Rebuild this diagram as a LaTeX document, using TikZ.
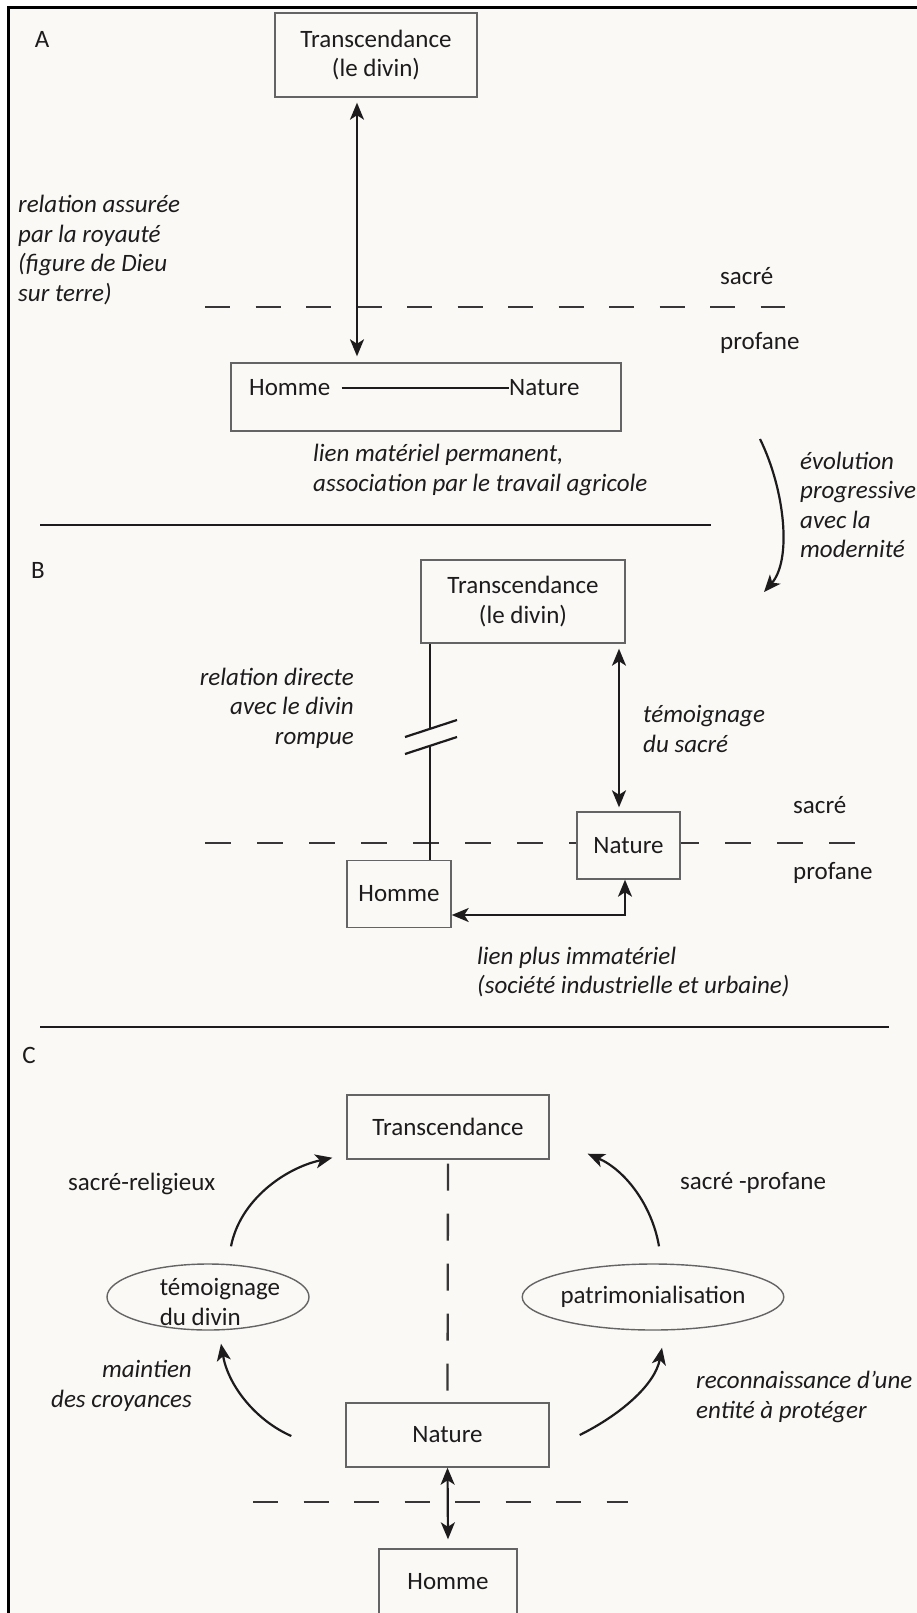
\documentclass[tikz,border=0pt]{standalone}
\usepackage{fontspec}
\setmainfont{Carlito}
\usetikzlibrary{arrows.meta,shapes.geometric,calc}
\definecolor{ink}{HTML}{1E1B1C}
\definecolor{boxc}{HTML}{646464}
\definecolor{bg}{HTML}{FAF9F6}
\begin{document}
\begin{tikzpicture}[x=1pt,y=-1pt,
  txt/.style={inner sep=0pt, font=\fontsize{25}{29.5}\selectfont, text=ink},
  itx/.style={inner sep=0pt, font=\fontsize{25}{29.5}\selectfont\itshape, text=ink},
  box/.style={draw=boxc, line width=1.4pt, fill=bg, inner sep=0pt, align=center,
              font=\fontsize{25}{29.5}\selectfont, text=ink},
  ell/.style={ellipse, draw=boxc, line width=1.4pt, inner sep=0pt,
              font=\fontsize{25}{29.5}\selectfont, text=ink},
  conn/.style={line width=2.2pt, draw=ink},
  tipa/.tip={Stealth[length=17pt,width=14pt,inset=4.5pt]},
  dbl/.style={conn, tipa-tipa},
  arr/.style={conn, -tipa},
  dsh/.style={line width=2.5pt, draw=ink!88, dash pattern=on 25pt off 25.5pt},
  dshb/.style={line width=2.5pt, draw=ink!88, dash pattern=on 26pt off 26pt},
  vdsh/.style={line width=2.3pt, draw=ink!88, dash pattern=on 27pt off 23pt, dash phase=46pt},
  sep/.style={line width=2.4pt, draw=ink}]
\useasboundingbox (0,0) rectangle (917,1613);
\fill[white] (0,0) rectangle (917,1613);
\fill[bg] (8,8) rectangle (917,1613);
\draw[line width=3pt] (8,1613) -- (8,8) -- (917,8);

% ---------------- A ----------------
\node[txt] (labA) at (42,39) {A};
\node[box, minimum width=202pt, minimum height=84pt] (TA) at (376,55) {Transcendance\\(le divin)};
\draw[dsh] (205,307) -- (785,307);
\node[box, minimum width=390pt, minimum height=68pt] (HN) at (426,397) {};
\node[txt, anchor=west] (hA) at (249,388) {Homme};
\node[txt, anchor=west] (nA) at (509,388) {Nature};
\draw[conn, shorten <=11pt] (hA.east) -- (nA.west);
\draw[dbl] ([xshift=-19pt,yshift=-5pt]TA.south) -- ([xshift=-69pt,yshift=6pt]HN.north);
\node[itx, anchor=west, align=left] (relA) at (18,250) {relation assurée\\par la royauté\\(figure de Dieu\\sur terre)};
\node[txt, anchor=west] (sacA) at (720,276) {sacré};
\node[txt, anchor=west] (proA) at (720,343) {profane};
\node[itx, anchor=west, align=left] (lienA) at (313,470) {lien matériel permanent,\\association par le travail agricole};
\draw[sep] (40,525) -- (711,525);

% evolution arrow
\coordinate (evS) at (760,439);
\coordinate (evE) at (764,592);
\draw[arr] (evS) .. controls (785,490) and (792,560) .. (evE);
\node[itx, anchor=west, align=left] (evo) at (800,505) {évolution\\progressive\\avec la\\modernité};

% ---------------- B ----------------
\node[txt] (labB) at (38,570) {B};
\node[box, minimum width=204pt, minimum height=83pt] (TB) at (523,601.5) {Transcendance\\(le divin)};
\draw[dshb] (205,843) -- (855,843);
\node[box, minimum width=104pt, minimum height=67pt] (HB) at (399,894) {Homme};
\node[box, minimum width=103pt, minimum height=67pt] (NB) at (628.5,845.5) {Nature};
\coordinate (bk1) at (430,729);
\coordinate (bk2) at (430,746);
\draw[conn] ([xshift=-93pt]TB.south) -- (bk1);
\draw[conn] (bk2) -- ([xshift=31pt]HB.north);
\coordinate (s1a) at (405,737); \coordinate (s1b) at (457,720);
\coordinate (s2a) at (405,754); \coordinate (s2b) at (457,737);
\draw[conn] (s1a) -- (s1b);
\draw[conn] (s2a) -- (s2b);
\draw[dbl] ([xshift=96pt,yshift=-5pt]TB.south) -- ([xshift=-9.5pt,yshift=4pt]NB.north);
\draw[dbl] ([xshift=-3.5pt]NB.south) |- ([yshift=-21pt]HB.east);
\node[txt, anchor=west] (sacB) at (793,805) {sacré};
\node[txt, anchor=west] (proB) at (793,873) {profane};
\node[itx, anchor=east, align=right] (relB) at (354,708) {relation directe\\avec le divin\\rompue};
\node[itx, anchor=west, align=left] (temB) at (643,729) {témoignage\\du sacré};
\node[itx, anchor=west, align=left] (lienB) at (477,972) {lien plus immatériel\\(société industrielle et urbaine)};
\draw[sep] (40,1027) -- (889,1027);

% ---------------- C ----------------
\node[txt] (labC) at (29,1055) {C};
\node[box, minimum width=202pt, minimum height=64pt] (TC) at (448,1127) {Transcendance};
\node[box, minimum width=203pt, minimum height=64pt] (NC) at (447.5,1435) {Nature};
\draw[dsh] (253,1502) -- (628,1502);
\node[box, minimum width=138pt, minimum height=66pt] (HC) at (448,1582) {Homme};
\draw[vdsh] (TC.south) -- (NC.north);
\draw[dbl] (NC.south) -- ([yshift=9pt]HC.north);

\node[ell, minimum width=202pt, minimum height=66pt] (EL) at (208,1297) {};
\node[txt, align=left] (ELt) at (220,1302) {témoignage\\du divin};
\node[ell, minimum width=226pt, minimum height=66pt] (ER) at (653,1297) {patrimonialisation};

\draw[arr] ([xshift=23pt,yshift=17pt]EL.north) .. controls (240,1200) and (285,1168) .. ([xshift=-14pt,yshift=2pt]TC.south west);
\draw[arr] ([xshift=6pt,yshift=17pt]ER.north) .. controls (652,1205) and (625,1170) .. ([xshift=38pt,yshift=6pt]TC.south east);
\draw[arr] ([xshift=-54pt,yshift=-1pt]NC.west) .. controls (255,1420) and (228,1385) .. ([xshift=13pt,yshift=-13pt]EL.south);
\draw[arr] ([xshift=30pt]NC.east) .. controls (620,1415) and (655,1385) .. ([xshift=9pt,yshift=-17pt]ER.south);

\node[txt, anchor=west] (srel) at (68,1184) {sacré-religieux};
\node[txt, anchor=west] (sprof) at (680,1183) {sacré -profane};
\node[itx, anchor=east, align=right] (maint) at (192,1386) {maintien\\des croyances};
\node[itx, anchor=west, align=left] (recon) at (696,1397) {reconnaissance d'une\\entité à protéger};
\end{tikzpicture}
\end{document}
